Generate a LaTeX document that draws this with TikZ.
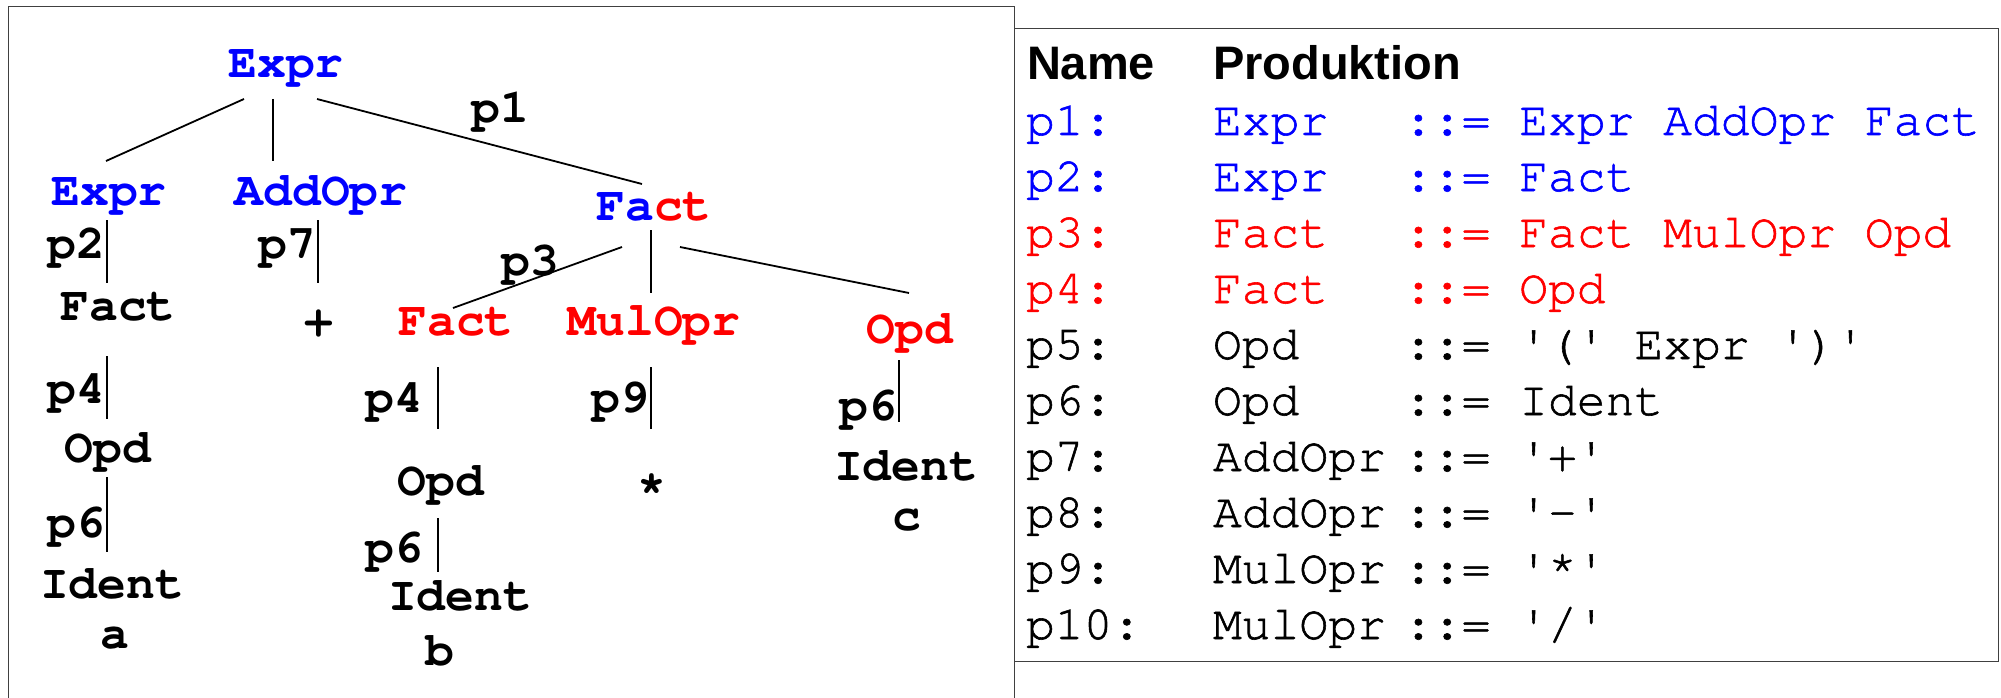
\documentclass[tikz,border=0pt]{standalone}
\usepackage{fontspec}
\usetikzlibrary{calc}
\newfontfamily\cur{texgyrecursor}[Extension=.otf,UprightFont=*-regular,BoldFont=*-bold,Ligatures=TeXOff]
\newfontfamily\curtab{texgyrecursor-regular.otf}[Ligatures=TeXOff,FakeBold=1.2]
\newfontfamily\hel{Liberation Sans}
\definecolor{ntblue}{RGB}{0,0,255}
\definecolor{ntred}{RGB}{255,0,0}

\begin{document}
\begin{tikzpicture}[x=1pt,y=-1pt,
  sym/.style={inner sep=0pt, outer sep=0pt, anchor=base,
    font=\cur\bfseries\fontsize{48pt}{48pt}\selectfont},
  blu/.style={sym, text=ntblue},
  rd/.style={sym, text=ntred},
  edge/.style={line width=1.8pt, black},
  frame/.style={line width=1pt, draw=black!75},
  row/.style={inner sep=0pt, outer sep=0pt, anchor=base west,
    font=\curtab\bfseries\fontsize{48pt}{48pt}\selectfont},
  head/.style={inner sep=0pt, outer sep=0pt, anchor=base west,
    font=\hel\bfseries\fontsize{47pt}{47pt}\selectfont}]

\useasboundingbox (0,0) rectangle (2001,698);
\fill[white] (0,0) rectangle (2001,698);

% frames
\draw[frame] (8,698) -- (8,7) -- (1014,7) -- (1014,698);
\draw[frame] (1014,29) rectangle (1998,661);

% derivation tree: symbols
\node[blu] (root) at (286,78) {Expr};
\node[blu] (e2)   at (109,205) {Expr};
\node[blu] (add)  at (321,205) {AddOpr};
\node[sym] (fm)   at (654,220) {{\color{ntblue}Fa}{\color{ntred}ct}};
\node[sym] (f1)   at (118,320) {Fact};
\node[sym] (plus) at (319,335) {+};
\node[rd]  (f2)   at (456,335) {Fact};
\node[rd]  (mul)  at (654,335) {MulOpr};
\node[rd]  (opdr) at (910,343) {Opd};
\node[sym] (opd1) at (108,462) {Opd};
\node[sym] (id1)  at (112,598) {Ident};
\node[sym] (va)   at (115,648) {a};
\node[sym] (opd2) at (441,495) {Opd};
\node[sym] (id2)  at (460,610) {Ident};
\node[sym] (vb)   at (440,665) {b};
\node[sym] (star) at (652,503) {*};
\node[sym] (idr)  at (906,480) {Ident};
\node[sym] (vc)   at (907,530) {c};

% production labels
\node[sym] (lp1)  at (500,123) {p1};
\node[sym] (lp2)  at (76,258)  {p2};
\node[sym] (lp7)  at (287,258) {p7};
\node[sym] (lp3)  at (530,275) {p3};
\node[sym] (lp4a) at (76,403)  {p4};
\node[sym] (lp6a) at (76,537)  {p6};
\node[sym] (lp4b) at (394,412) {p4};
\node[sym] (lp6b) at (394,562) {p6};
\node[sym] (lp9)  at (620,412) {p9};
\node[sym] (lp6c) at (868,420) {p6};

% tree edges
\draw[edge] ($(root.base)+(-42,21)$) -- ($(e2.base)+(-3,-44)$);
\draw[edge] ($(root.base)+(-13,21)$) -- ($(add.base)+(-48,-44)$);
\draw[edge] ($(root.base)+(31,21)$)  -- ($(fm.base)+(-12,-36)$);
\draw[edge] ($(e2.base)+(-2,15)$)    -- ($(f1.base)+(-11,-37)$);
\draw[edge] ($(add.base)+(-3,15)$)   -- ($(plus.base)+(-1,-52)$);
\draw[edge] ($(fm.base)+(-32,27)$)   -- ($(f2.base)+(-3,-27)$);
\draw[edge] ($(fm.base)+(-3,10)$)    -- ($(mul.base)+(-3,-42)$);
\draw[edge] ($(fm.base)+(26,27)$)    -- ($(opdr.base)+(-1,-50)$);
\draw[edge] ($(f1.base)+(-11,36)$)   -- ($(opd1.base)+(-1,-43)$);
\draw[edge] ($(opd1.base)+(-1,15)$)  -- ($(id1.base)+(-5,-46)$);
\draw[edge] ($(f2.base)+(-18,32)$)   -- ($(opd2.base)+(-3,-66)$);
\draw[edge] ($(opd2.base)+(-3,23)$)  -- ($(id2.base)+(-22,-38)$);
\draw[edge] ($(mul.base)+(-3,32)$)   -- ($(star.base)+(-1,-74)$);
\draw[edge] ($(opdr.base)+(-11,17)$) -- ($(idr.base)+(-7,-58)$);

% grammar table
\node[head] (hname) at (1027,80) {Name};
\node[head] (hprod) at (1213,80) {Produktion};
\foreach \i/\nm/\lhs/\rhs/\col in {
  1/{p1:}/{Expr}/{::= Expr AddOpr Fact}/ntblue,
  2/{p2:}/{Expr}/{::= Fact}/ntblue,
  3/{p3:}/{Fact}/{::= Fact MulOpr Opd}/ntred,
  4/{p4:}/{Fact}/{::= Opd}/ntred,
  5/{p5:}/{Opd}/{::= '(' Expr ')'}/black,
  6/{p6:}/{Opd}/{::= Ident}/black,
  7/{p7:}/{AddOpr}/{::= '+'}/black,
  8/{p8:}/{AddOpr}/{::= '-'}/black,
  9/{p9:}/{MulOpr}/{::= '*'}/black,
  10/{p10:}/{MulOpr}/{::= '/'}/black} {
  \node[row, text=\col] (tn\i) at (1026,{135+56*(\i-1)}) {\nm};
  \node[row, text=\col] (tl\i) at (1213,{135+56*(\i-1)}) {\lhs};
  \node[row, text=\col] (tr\i) at (1404,{135+56*(\i-1)}) {\rhs};
}
\end{tikzpicture}
\end{document}
